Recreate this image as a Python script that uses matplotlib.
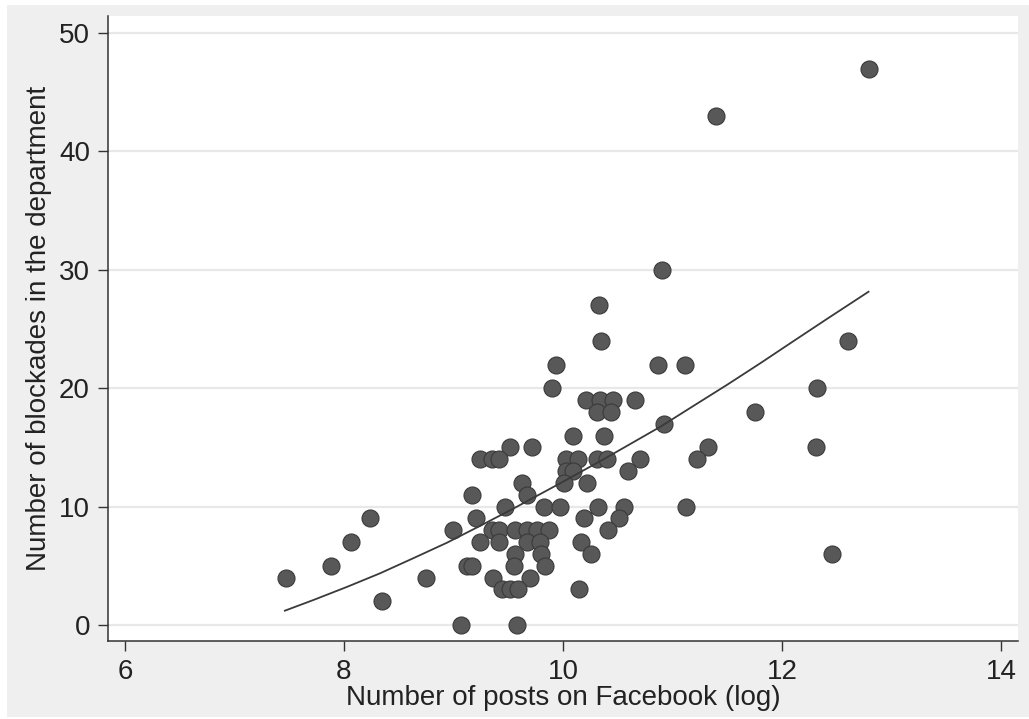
import matplotlib
matplotlib.use("Agg")
import matplotlib.pyplot as plt
from matplotlib.patches import Rectangle

plt.rcParams['font.family'] = ['Liberation Sans', 'DejaVu Sans']

# Scatter data: number of posts on Facebook (log) vs number of blockades
posts_log = [
    12.79, 11.40, 10.90, 10.33, 10.35, 12.60, 9.94, 10.87, 11.11, 9.90, 12.32,
    10.21, 10.34, 10.46, 10.66, 10.31, 10.44, 11.75, 10.92, 10.09, 10.37,
    9.52, 9.72, 11.32, 12.31,
    9.24, 9.35, 9.42, 10.03, 10.14, 10.31, 10.40, 10.70, 11.22,
    10.03, 10.09, 10.59,
    10.01, 10.22, 9.63,
    9.17, 9.67,
    9.47, 9.83, 9.97, 10.32, 10.56, 11.12,
    8.24, 9.21, 10.19, 10.51,
    9.00, 9.35, 9.42, 9.56, 9.67, 9.76, 9.87, 10.41,
    8.06, 9.24, 9.42, 9.67, 9.79, 10.16,
    9.56, 9.80, 10.26, 12.46,
    7.88, 9.12, 9.17, 9.55, 9.84,
    7.47, 8.75, 9.36, 9.70,
    9.44, 9.52, 9.59, 10.15,
    8.35,
    9.07, 9.58,
]
blockades = [
    47, 43, 30, 27, 24, 24, 22, 22, 22, 20, 20,
    19, 19, 19, 19, 18, 18, 18, 17, 16, 16,
    15, 15, 15, 15,
    14, 14, 14, 14, 14, 14, 14, 14, 14,
    13, 13, 13,
    12, 12, 12,
    11, 11,
    10, 10, 10, 10, 10, 10,
    9, 9, 9, 9,
    8, 8, 8, 8, 8, 8, 8, 8,
    7, 7, 7, 7, 7, 7,
    6, 6, 6, 6,
    5, 5, 5, 5, 5,
    4, 4, 4, 4,
    3, 3, 3, 3,
    2,
    0, 0,
]

# Fitted curve
fit_x = [7.46, 7.72, 8.03, 8.33, 8.63, 8.94, 9.24, 9.55, 9.97, 10.38,
         10.89, 11.19, 11.50, 11.80, 12.10, 12.41, 12.79]
fit_y = [1.21, 2.11, 3.23, 4.37, 5.63, 6.95, 8.36, 9.85, 11.95, 14.05,
         16.75, 18.50, 20.30, 22.10, 23.95, 25.85, 28.15]

x_ticks = [6, 8, 10, 12, 14]
y_ticks = [0, 10, 20, 30, 40, 50]

W, H = 1029, 719
fig = plt.figure(figsize=(W / 100, H / 100), dpi=100, facecolor='white')
fig.patches.append(Rectangle((7 / W, 2 / H), 1 - 7 / W, 1 - 7 / H,
                             transform=fig.transFigure, facecolor='#efefef',
                             edgecolor='none', zorder=-10))

ax = fig.add_axes([108 / W, (H - 641) / H, (1018 - 108) / W, (641 - 16) / H])
ax.set_facecolor('white')

ax.set_xlim(5.845, 14.155)
ax.set_ylim(-1.35, 51.44)

for yt in y_ticks:
    ax.axhline(yt, color='#e8e8e8', lw=1.6, zorder=0)

ax.scatter(posts_log, blockades, s=150, color='#585858', edgecolors='#3a3a3a',
           linewidths=0.8, zorder=3)
ax.plot(fit_x, fit_y, color='#3a3a3a', lw=1.3, zorder=4)

ax.set_xticks(x_ticks)
ax.set_yticks(y_ticks)
ax.set_xticklabels([str(t) for t in x_ticks])
ax.set_yticklabels([str(t) for t in y_ticks])

for s in ['top', 'right']:
    ax.spines[s].set_visible(False)
for s in ['left', 'bottom']:
    ax.spines[s].set_color('#333333')
    ax.spines[s].set_linewidth(1.1)

ax.tick_params(axis='both', direction='out', length=7, width=1.0, color='#333333',
               labelsize=20, labelcolor='#222222', pad=6)

ax.set_xlabel('Number of posts on Facebook (log)', fontsize=20, color='#222222', labelpad=0)
ax.set_ylabel('Number of blockades in the department', fontsize=20, color='#222222', labelpad=5)

fig.savefig('out.png', dpi=100, facecolor=fig.get_facecolor())
